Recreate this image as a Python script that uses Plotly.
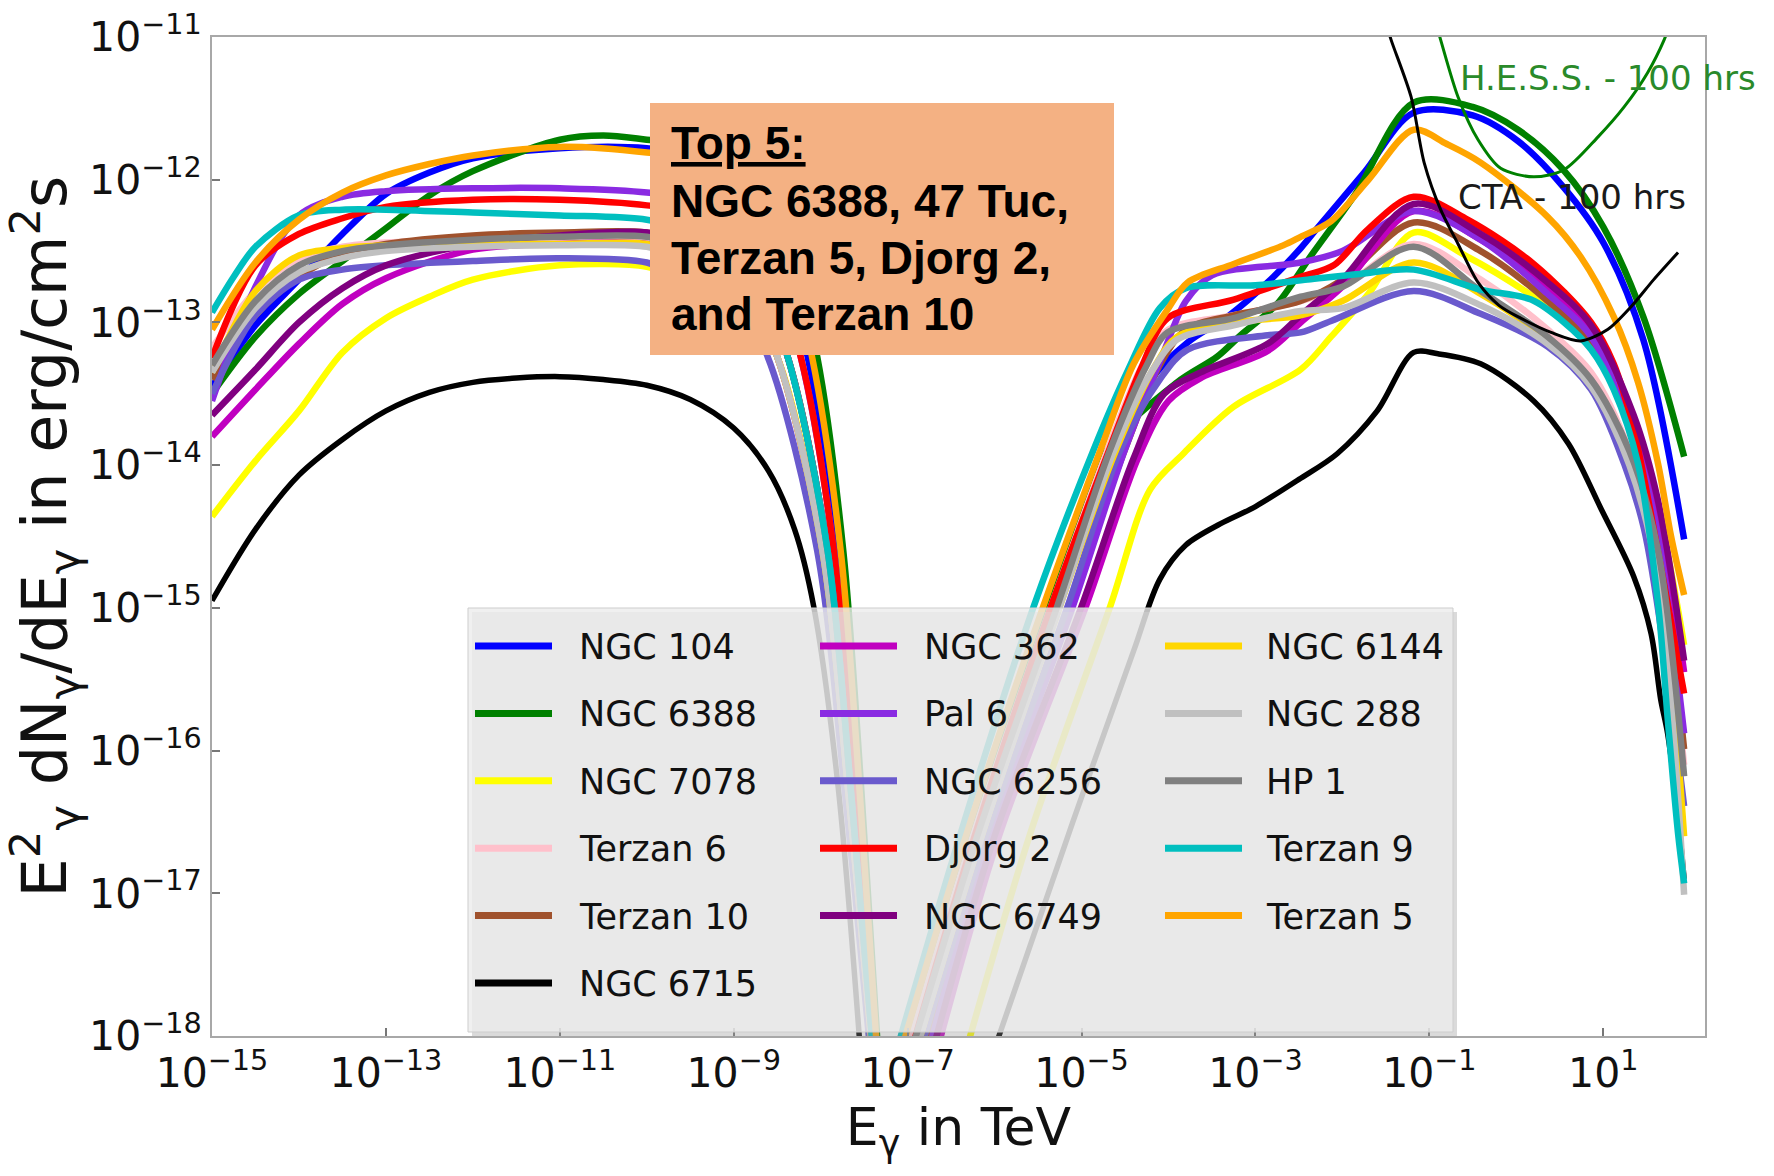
import plotly.graph_objects as go

# Spectral energy distributions of globular clusters.
# Each point is (log10 E_gamma [TeV], log10 E^2 dN/dE [erg cm^-2 s^-1]);
# None separates the low-energy bump from the high-energy bump.
NGC_104 = [(-15, -13.45), (-14.5, -13.02), (-14, -12.70), (-13.5, -12.38), (-13, -12.10), (-12.5, -11.95),
           (-12, -11.85), (-11, -11.78), (-10, -11.78), (-9.25, -11.86), (-8.55, -12.29), (-8.15, -13.24),
           (-7.80, -14.6), (-7.57, -16.3), (-7.34, -18.3), None,
           (-7.0, -18.3), (-6.2, -16.6), (-5.3, -14.99), (-4.6, -13.89), (-4.2, -13.4), (-3.78, -13.14),
           (-3.3, -12.95), (-2.86, -12.72), (-2.48, -12.48), (-2.29, -12.34), (-1.75, -11.95), (-1.18, -11.53),
           (-0.5, -11.55), (0.02, -11.73), (0.54, -12.05), (1.0, -12.44), (1.46, -13.12), (1.93, -14.52)]
NGC_6388 = [(-15, -13.5), (-14.5, -13.1), (-14, -12.8), (-13.5, -12.57), (-13, -12.34), (-12.5, -12.11),
            (-12, -11.94), (-11, -11.72), (-10.5, -11.69), (-10, -11.72), (-9.1, -11.80), (-8.45, -12.25),
            (-8.04, -13.24), (-7.74, -14.6), (-7.53, -16.3), (-7.32, -18.3), None,
            (-7.12, -18.3), (-6.28, -16.6), (-5.4, -14.99), (-4.7, -13.89), (-3.9, -13.42), (-3.44, -13.24),
            (-3.17, -13.09), (-2.75, -12.87), (-2.37, -12.54), (-1.85, -12.1), (-1.18, -11.46), (-0.5, -11.49),
            (0.02, -11.65), (0.54, -11.93), (1.0, -12.33), (1.46, -12.96), (1.93, -13.94)]
NGC_7078 = [(-15, -14.36), (-14.5, -13.97), (-14, -13.62), (-13.5, -13.21), (-13, -12.97), (-12.5, -12.82),
            (-12, -12.70), (-11, -12.60), (-10, -12.61), (-9.6, -12.69), (-8.9, -12.83), (-8.50, -13.24),
            (-7.98, -14.6), (-7.68, -16.3), (-7.38, -18.3), None,
            (-6.42, -18.3), (-5.6, -16.6), (-4.67, -14.99), (-4.21, -14.17), (-3.83, -13.92), (-3.25, -13.59),
            (-2.48, -13.33), (-2.13, -13.1), (-1.7, -12.8), (-1.18, -12.37), (-0.56, -12.54), (0.2, -12.82),
            (0.6, -13.0), (1.0, -13.3), (1.35, -13.75), (1.63, -14.3), (1.93, -15.26)]
TERZAN_6 = [(-15, -13.18), (-14.5, -12.78), (-14, -12.55), (-13.5, -12.47), (-13, -12.44), (-12, -12.42),
            (-11, -12.42), (-10, -12.42), (-9.6, -12.50), (-8.9, -12.71), (-8.50, -13.24), (-7.98, -14.6),
            (-7.68, -16.3), (-7.38, -18.3), None,
            (-7.1, -18.3), (-6.25, -16.6), (-5.35, -14.99), (-4.7, -13.89), (-4.3, -13.3), (-4.0, -13.05),
            (-3.25, -12.95), (-2.48, -12.85), (-2.0, -12.75), (-1.18, -12.45), (-0.41, -12.7), (0.36, -13.05),
            (0.86, -13.35), (1.3, -13.9), (1.63, -14.65), (1.93, -16.1)]
TERZAN_10 = [(-15, -13.4), (-14.5, -12.95), (-14, -12.68), (-13.5, -12.52), (-13, -12.45), (-12, -12.39),
             (-11, -12.37), (-10, -12.37), (-9.5, -12.45), (-8.77, -12.67), (-8.38, -13.24), (-7.92, -14.6),
             (-7.65, -16.3), (-7.37, -18.3), None,
             (-6.9, -18.3), (-6.1, -16.6), (-5.15, -14.99), (-4.5, -13.89), (-4.1, -13.3), (-3.8, -13.05),
             (-3.25, -12.95), (-2.48, -12.85), (-2.0, -12.7), (-1.18, -12.3), (-0.41, -12.5), (0.36, -12.85),
             (0.86, -13.15), (1.35, -13.8), (1.63, -14.5), (1.93, -15.99)]
NGC_6715 = [(-15, -14.95), (-14.5, -14.45), (-14, -14.07), (-13.5, -13.82), (-13, -13.62), (-12.5, -13.49),
            (-12, -13.42), (-11.5, -13.39), (-11, -13.38), (-10.5, -13.40), (-10, -13.44), (-9.5, -13.54),
            (-9.0, -13.74), (-8.6, -14.04), (-8.3, -14.45), (-8.08, -14.99), (-7.8, -16.25), (-7.52, -18.3), None,
            (-6.12, -18.3), (-5.1, -16.5), (-4.4, -15.3), (-4.1, -14.8), (-3.8, -14.56), (-3.4, -14.41),
            (-3.0, -14.29), (-2.5, -14.1), (-2.06, -13.92), (-1.6, -13.62), (-1.18, -13.21), (-0.9, -13.22),
            (-0.41, -13.29), (0.2, -13.55), (0.6, -13.85), (0.97, -14.3), (1.35, -14.78), (1.55, -15.18),
            (1.66, -15.64), (1.74, -15.88), (1.85, -16.4), (1.93, -16.9)]
NGC_362 = [(-15, -13.8), (-14.5, -13.47), (-14, -13.15), (-13.5, -12.87), (-13, -12.69), (-12, -12.49),
           (-11, -12.45), (-10, -12.45), (-9.6, -12.53), (-8.9, -12.73), (-8.50, -13.24), (-7.98, -14.6),
           (-7.68, -16.3), (-7.38, -18.3), None,
           (-6.75, -18.3), (-5.95, -16.6), (-4.95, -14.99), (-4.35, -13.95), (-4.0, -13.55), (-3.63, -13.39),
           (-2.86, -13.2), (-2.48, -13.0), (-2.0, -12.75), (-1.18, -12.22), (-0.41, -12.42), (0.36, -12.77),
           (0.86, -13.08), (1.35, -13.7), (1.63, -14.3), (1.93, -15.45)]
PAL_6 = [(-15, -13.55), (-14.5, -12.75), (-14, -12.25), (-13.5, -12.12), (-13, -12.08), (-12, -12.06),
         (-11, -12.06), (-10, -12.09), (-9.35, -12.17), (-8.62, -12.49), (-8.23, -13.24), (-7.85, -14.6),
         (-7.60, -16.3), (-7.35, -18.3), None,
         (-6.85, -18.3), (-6.05, -16.6), (-5.1, -14.99), (-4.5, -13.89), (-4.05, -13.2), (-3.8, -12.85),
         (-3.5, -12.67), (-2.48, -12.58), (-2.0, -12.5), (-1.18, -12.22), (-0.41, -12.42), (0.36, -12.8),
         (0.86, -13.1), (1.35, -13.8), (1.63, -14.5), (1.93, -15.88)]
NGC_6256 = [(-15, -13.5), (-14.5, -12.95), (-14, -12.70), (-13.5, -12.63), (-13, -12.60), (-12, -12.57),
            (-11, -12.55), (-10, -12.58), (-9.7, -12.66), (-9.0, -12.81), (-8.61, -13.24), (-8.04, -14.6),
            (-7.72, -16.3), (-7.40, -18.3), None,
            (-6.95, -18.3), (-6.1, -16.6), (-5.16, -14.99), (-4.55, -13.89), (-4.1, -13.4), (-3.78, -13.19),
            (-2.86, -13.09), (-2.48, -13.07), (-2.13, -12.99), (-1.18, -12.78), (-0.41, -12.94), (0.36, -13.17),
            (0.86, -13.47), (1.24, -13.99), (1.47, -14.45), (1.7, -15.3), (1.93, -16.39)]
DJORG_2 = [(-15, -13.25), (-14.5, -12.6), (-14, -12.38), (-13.5, -12.27), (-13, -12.19), (-12, -12.14),
           (-11, -12.14), (-10, -12.18), (-9.35, -12.26), (-8.62, -12.55), (-8.23, -13.24), (-7.85, -14.6),
           (-7.60, -16.3), (-7.35, -18.3), None,
           (-7.05, -18.3), (-6.23, -16.6), (-5.35, -14.99), (-4.68, -13.89), (-4.3, -13.3), (-4.01, -12.97),
           (-3.25, -12.84), (-2.48, -12.68), (-2.1, -12.6), (-1.71, -12.35), (-1.18, -12.12), (-0.56, -12.28),
           (0.2, -12.59), (0.86, -13.0), (1.12, -13.29), (1.35, -13.75), (1.51, -14.22), (1.78, -15.1),
           (1.93, -15.60)]
NGC_6749 = [(-15, -13.65), (-14.5, -13.33), (-14, -13.0), (-13.5, -12.76), (-13, -12.6), (-12, -12.45),
            (-11, -12.39), (-10, -12.37), (-9.5, -12.45), (-8.77, -12.67), (-8.38, -13.24), (-7.92, -14.6),
            (-7.65, -16.3), (-7.37, -18.3), None,
            (-6.8, -18.3), (-6.0, -16.6), (-5.0, -14.99), (-4.4, -13.95), (-4.05, -13.5), (-3.63, -13.35),
            (-2.86, -13.15), (-2.48, -12.95), (-2.0, -12.7), (-1.18, -12.17), (-0.41, -12.38), (0.36, -12.72),
            (0.86, -13.02), (1.35, -13.65), (1.63, -14.25), (1.93, -15.37)]
NGC_6144 = [(-15, -13.35), (-14.5, -12.78), (-14, -12.53), (-13.5, -12.48), (-13, -12.46), (-12, -12.45),
            (-11, -12.45), (-10, -12.45), (-9.6, -12.53), (-8.9, -12.73), (-8.50, -13.24), (-7.98, -14.6),
            (-7.68, -16.3), (-7.38, -18.3), None,
            (-7.0, -18.3), (-6.15, -16.6), (-5.25, -14.99), (-4.6, -13.89), (-4.15, -13.3), (-3.9, -13.1),
            (-3.25, -13.0), (-2.48, -12.95), (-2.0, -12.85), (-1.18, -12.58), (-0.41, -12.8), (0.36, -13.12),
            (0.86, -13.42), (1.3, -13.95), (1.63, -14.7), (1.93, -16.60)]
NGC_288 = [(-15, -13.35), (-14.5, -12.9), (-14, -12.65), (-13.5, -12.55), (-13, -12.5), (-12, -12.47),
           (-11, -12.46), (-10, -12.47), (-9.6, -12.55), (-8.9, -12.74), (-8.50, -13.24), (-7.98, -14.6),
           (-7.68, -16.3), (-7.38, -18.3), None,
           (-7.0, -18.3), (-6.15, -16.6), (-5.25, -14.99), (-4.62, -13.89), (-4.2, -13.35), (-3.9, -13.12),
           (-3.25, -13.02), (-2.48, -12.92), (-2.0, -12.9), (-1.18, -12.72), (-0.41, -12.88), (0.36, -13.15),
           (0.86, -13.45), (1.3, -14.0), (1.63, -14.8), (1.93, -17.01)]
HP_1 = [(-15, -13.3), (-14.5, -12.85), (-14, -12.6), (-13.5, -12.5), (-13, -12.46), (-12, -12.42),
        (-11, -12.40), (-10, -12.40), (-9.5, -12.48), (-8.77, -12.69), (-8.38, -13.24), (-7.92, -14.6),
        (-7.65, -16.3), (-7.37, -18.3), None,
        (-7.05, -18.3), (-6.2, -16.6), (-5.28, -14.99), (-4.67, -13.89), (-4.25, -13.3), (-4.01, -13.07),
        (-3.25, -12.97), (-2.48, -12.82), (-2.0, -12.75), (-1.18, -12.47), (-0.41, -12.78), (0.36, -13.1),
        (0.86, -13.4), (1.3, -13.9), (1.63, -14.6), (1.93, -16.18)]
TERZAN_9 = [(-15, -12.93), (-14.75, -12.68), (-14.5, -12.47), (-14, -12.25), (-13.5, -12.21), (-13, -12.21),
            (-12, -12.23), (-11, -12.25), (-10, -12.28), (-9.5, -12.36), (-8.77, -12.62), (-8.38, -13.24),
            (-7.92, -14.6), (-7.65, -16.3), (-7.37, -18.3), None,
            (-7.22, -18.3), (-6.4, -16.6), (-5.55, -14.99), (-4.86, -13.89), (-4.47, -13.34), (-4.1, -12.9),
            (-3.8, -12.76), (-3.0, -12.74), (-2.4, -12.70), (-1.8, -12.66), (-1.18, -12.63), (-0.41, -12.77),
            (0.17, -12.84), (0.55, -13.0), (0.86, -13.19), (1.12, -13.47), (1.40, -13.99), (1.63, -14.97),
            (1.74, -15.77), (1.86, -16.58), (1.93, -16.93)]
TERZAN_5 = [(-15, -13.05), (-14.5, -12.58), (-14, -12.28), (-13.5, -12.09), (-13, -11.97), (-12.5, -11.89),
            (-12, -11.83), (-11, -11.77), (-10, -11.81), (-9.2, -11.89), (-8.5, -12.31), (-8.10, -13.24),
            (-7.77, -14.6), (-7.55, -16.3), (-7.33, -18.3), None,
            (-7.17, -18.3), (-6.33, -16.6), (-5.44, -14.99), (-4.78, -13.89), (-4.40, -13.29), (-4.0, -12.9),
            (-3.78, -12.72), (-3.25, -12.59), (-2.68, -12.46), (-2.48, -12.40), (-2.13, -12.29), (-1.7, -12.0),
            (-1.18, -11.65), (-0.8, -11.75), (-0.41, -11.88), (0.36, -12.26), (0.74, -12.54), (1.12, -12.96),
            (1.40, -13.42), (1.63, -13.99), (1.78, -14.5), (1.93, -14.91)]

# Instrument sensitivity curves for 100 hours of observation
HESS_100H = [(-0.95, -10.85), (-0.87, -11.02), (-0.67, -11.42), (-0.44, -11.72), (-0.18, -11.92), (0.2, -11.98),
             (0.55, -11.93), (0.94, -11.70), (1.24, -11.49), (1.51, -11.25), (1.70, -11.02), (1.76, -10.92)]
CTA_100H = [(-1.50, -10.9), (-1.44, -11.02), (-1.21, -11.42), (-1.06, -11.88), (-0.87, -12.21), (-0.67, -12.45),
            (-0.44, -12.72), (-0.2, -12.88), (0.05, -12.97), (0.40, -13.07), (0.74, -13.13), (1.05, -13.05),
            (1.32, -12.89), (1.58, -12.70), (1.86, -12.51)]

SOURCE_NAMES = ["NGC 104", "NGC 6388", "NGC 7078", "Terzan 6", "Terzan 10", "NGC 6715",
                "NGC 362", "Pal 6", "NGC 6256", "Djorg 2", "NGC 6749",
                "NGC 6144", "NGC 288", "HP 1", "Terzan 9", "Terzan 5"]
SOURCE_COLORS = ["#0000ff", "#008000", "#ffff00", "#ffc0cb", "#a0522d", "#000000",
                 "#c000c0", "#8a2be2", "#6a5acd", "#ff0000", "#800080",
                 "#ffd700", "#c0c0c0", "#808080", "#00bfbf", "#ffa500"]
SOURCE_SEDS = [NGC_104, NGC_6388, NGC_7078, TERZAN_6, TERZAN_10, NGC_6715,
               NGC_362, PAL_6, NGC_6256, DJORG_2, NGC_6749,
               NGC_6144, NGC_288, HP_1, TERZAN_9, TERZAN_5]
LEGEND_COLUMN_SIZES = [6, 5, 5]

X_TICK_EXPONENTS = [-15, -13, -11, -9, -7, -5, -3, -1, 1]
Y_TICK_EXPONENTS = [-18, -17, -16, -15, -14, -13, -12, -11]

TOP5_LINES = ["Top 5:", "NGC 6388, 47 Tuc,", "Terzan 5, Djorg 2,", "and Terzan 10"]
HESS_LABEL = "H.E.S.S. - 100 hrs"
CTA_LABEL = "CTA - 100 hrs"

# ---------------------------------------------------------------- geometry
W, H = 1774, 1176
ML, MR, MT, MB = 212, 69, 37, 140
PW, PH = W - ML - MR, H - MT - MB

SANS = "DejaVu Sans, sans-serif"
ARIAL = "Liberation Sans, Arial, sans-serif"
INK = "#111111"


def px(x):
    return (x - ML) / PW


def py(y):
    return (H - MB - y) / PH


def unpack(points):
    xs, ys = [], []
    for p in points:
        if p is None:
            xs.append(None)
            ys.append(None)
        else:
            xs.append(10 ** p[0])
            ys.append(10 ** p[1])
    return xs, ys


def power_label(e):
    s = str(e).replace("-", "\u2212")
    return f"10<sup>{s}</sup>"


fig = go.Figure()

for name, color, sed in zip(SOURCE_NAMES, SOURCE_COLORS, SOURCE_SEDS):
    x, y = unpack(sed)
    width = 5.5 if color == "#000000" else 6.5
    fig.add_trace(go.Scatter(x=x, y=y, mode="lines", name=name, hoverinfo="skip",
                             line=dict(color=color, width=width, shape="spline", smoothing=0.9)))

for name, color, curve in [(HESS_LABEL, "#008000", HESS_100H), (CTA_LABEL, "#000000", CTA_100H)]:
    x, y = unpack(curve)
    fig.add_trace(go.Scatter(x=x, y=y, mode="lines", name=name, hoverinfo="skip",
                             line=dict(color=color, width=3, shape="spline", smoothing=0.8)))

axis_common = dict(type="log", showgrid=False, zeroline=False, showline=True, mirror=True,
                   linecolor="#a8a8a8", linewidth=2, ticks="inside", ticklen=8, tickwidth=1.5,
                   tickcolor="#777777", tickfont=dict(family=SANS, size=41, color=INK))

fig.update_xaxes(range=[-15, 2.17],
                 tickvals=[10 ** e for e in X_TICK_EXPONENTS],
                 ticktext=[power_label(e) for e in X_TICK_EXPONENTS],
                 title=dict(text="E<sub>\u03b3</sub> in TeV", font=dict(family=SANS, size=52, color=INK),
                            standoff=10),
                 **axis_common)
fig.update_yaxes(range=[-18, -11],
                 tickvals=[10 ** e for e in Y_TICK_EXPONENTS],
                 ticktext=[power_label(e) for e in Y_TICK_EXPONENTS],
                 title=dict(text="E<sup>2</sup><sub>\u03b3</sub> dN<sub>\u03b3</sub>/dE<sub>\u03b3</sub> in erg/cm<sup>2</sup>s",
                            font=dict(family=SANS, size=62, color=INK), standoff=8),
                 **axis_common)

shapes = []
annotations = []

# legend panel
LX0, LY0, LX1, LY1 = 468, 608, 1453, 1032
shapes.append(dict(type="rect", xref="paper", yref="paper", layer="above",
                   x0=px(LX0 + 4), x1=px(LX1 + 4), y0=py(LY1 + 4), y1=py(LY0 + 4),
                   fillcolor="rgba(150,150,150,0.35)", line=dict(width=0)))
shapes.append(dict(type="rect", xref="paper", yref="paper", layer="above",
                   x0=px(LX0), x1=px(LX1), y0=py(LY1), y1=py(LY0),
                   fillcolor="rgba(236,236,236,0.80)", line=dict(color="rgba(205,205,205,1)", width=1)))

SWATCH_X = [475, 820, 1165]
SWATCH_LEN = 77
TEXT_X = [577, 922, 1264]
ROW_Y0, ROW_DY = 646, 67.4
i = 0
for col, n in enumerate(LEGEND_COLUMN_SIZES):
    for row in range(n):
        yc = ROW_Y0 + row * ROW_DY
        shapes.append(dict(type="line", xref="paper", yref="paper", layer="above",
                           x0=px(SWATCH_X[col]), x1=px(SWATCH_X[col] + SWATCH_LEN), y0=py(yc), y1=py(yc),
                           line=dict(color=SOURCE_COLORS[i], width=7)))
        annotations.append(dict(xref="paper", yref="paper", x=px(TEXT_X[col]), y=py(yc + 1),
                                xanchor="left", yanchor="middle", showarrow=False,
                                text=SOURCE_NAMES[i], font=dict(family=SANS, size=35, color=INK)))
        i += 1

# "Top 5" call-out box
shapes.append(dict(type="rect", xref="paper", yref="paper", layer="above",
                   x0=px(650), x1=px(1114), y0=py(355), y1=py(103),
                   fillcolor="#f4b183", line=dict(width=0)))
for k, (line, yc) in enumerate(zip(TOP5_LINES, [143, 201, 258, 314])):
    font = dict(family=ARIAL, size=46, color="#000000")
    if k == 0:
        font["lineposition"] = "under"
    annotations.append(dict(xref="paper", yref="paper", x=px(669), y=py(yc), xanchor="left",
                            yanchor="middle", showarrow=False, text=f"<b>{line}</b>", font=font))

# instrument labels
annotations.append(dict(xref="paper", yref="paper", x=px(1458), y=py(78), xanchor="left", yanchor="middle",
                        showarrow=False, text=HESS_LABEL, font=dict(family=SANS, size=34, color="#2a8a2a")))
annotations.append(dict(xref="paper", yref="paper", x=px(1456), y=py(197), xanchor="left", yanchor="middle",
                        showarrow=False, text=CTA_LABEL, font=dict(family=SANS, size=34, color="#1a1a1a")))

fig.update_layout(width=W, height=H, margin=dict(l=ML, r=MR, t=MT, b=MB, autoexpand=False),
                  paper_bgcolor="white", plot_bgcolor="white", showlegend=False,
                  shapes=shapes, annotations=annotations)

fig.write_html("out.html")
